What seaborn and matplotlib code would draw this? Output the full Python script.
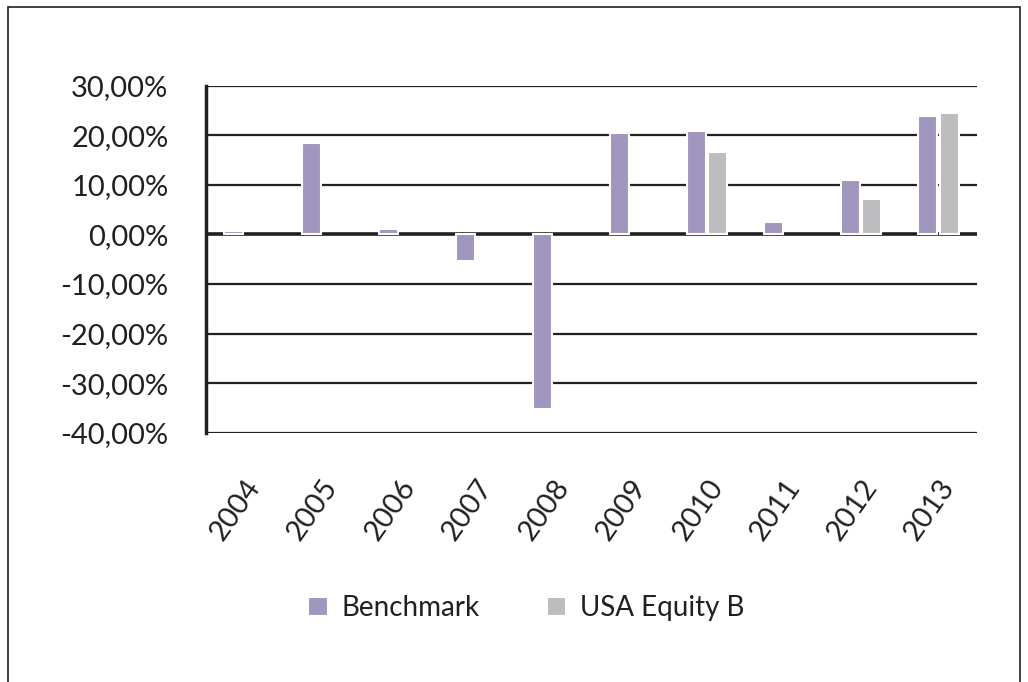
import numpy as np
import pandas as pd
import matplotlib
matplotlib.use("Agg")
import matplotlib.pyplot as plt
import seaborn as sns
from matplotlib.patches import Rectangle
from matplotlib.ticker import FuncFormatter

years = ['2004', '2005', '2006', '2007', '2008', '2009', '2010', '2011', '2012', '2013']
benchmark = [0.6, 18.4, 1.1, -5.4, -35.3, 20.4, 20.9, 2.6, 11.0, 23.8]
usa_equity_b = [np.nan, np.nan, np.nan, np.nan, np.nan, np.nan, 16.7, np.nan, 7.2, 24.5]
series_names = ['Benchmark', 'USA Equity B']
colors = ['#9e8fc4', '#bcbdc0']

df = pd.DataFrame({'Year': years, series_names[0]: benchmark, series_names[1]: usa_equity_b})
df_long = df.melt(id_vars='Year', var_name='Series', value_name='Return')

sns.set_style('white')
plt.rcParams['font.family'] = ['Lato', 'DejaVu Sans']
ink = '#231f20'

fig = plt.figure(figsize=(10.28, 6.82), dpi=100)
ax = fig.add_axes([206 / 1028, 1 - 432.7 / 682, (977 - 206) / 1028, (432.7 - 85.7) / 682])

sns.barplot(data=df_long, x='Year', y='Return', hue='Series', palette=colors,
            width=0.55, gap=0.1, ax=ax, edgecolor='white', linewidth=1.5, zorder=3)

ax.set_ylim(-40, 30)
ax.set_xlim(-0.5, len(years) - 0.5)
ax.set_yticks(np.arange(-40, 31, 10))
ax.yaxis.set_major_formatter(FuncFormatter(lambda v, p: f'{v:.2f}%'.replace('.', ',')))
for v in np.arange(-40, 31, 10):
    if v == 0:
        ax.axhline(v, color=ink, lw=2.6, zorder=2.5)
    else:
        ax.axhline(v, color=ink, lw=1.6, zorder=2)

for s in ['top', 'right', 'bottom']:
    ax.spines[s].set_visible(False)
ax.spines['left'].set_color(ink)
ax.spines['left'].set_linewidth(2.5)

ax.set_xlabel('')
ax.set_ylabel('')
ax.tick_params(axis='y', labelsize=21, length=0, pad=27, labelcolor=ink)
ax.tick_params(axis='x', labelsize=21, length=0, pad=30, labelcolor=ink)
plt.setp(ax.get_xticklabels(), rotation=55, ha='right', rotation_mode='anchor')

# legend under the chart, centred like the Excel original
leg = ax.legend(loc='center', frameon=False, ncol=2, fontsize=20,
                handlelength=0.7, handleheight=0.7, columnspacing=2.4,
                handletextpad=0.5)
leg.set_bbox_to_anchor((0.512, 1 - 608 / 682), transform=fig.transFigure)
for t in leg.get_texts():
    t.set_color(ink)

fig.patches.append(Rectangle((8 / 1028, -0.1), 1012 / 1028, 1.1 - 7 / 682,
                             transform=fig.transFigure, fill=False, edgecolor=ink,
                             lw=1.2, figure=fig))

fig.savefig('out.png', dpi=100)
